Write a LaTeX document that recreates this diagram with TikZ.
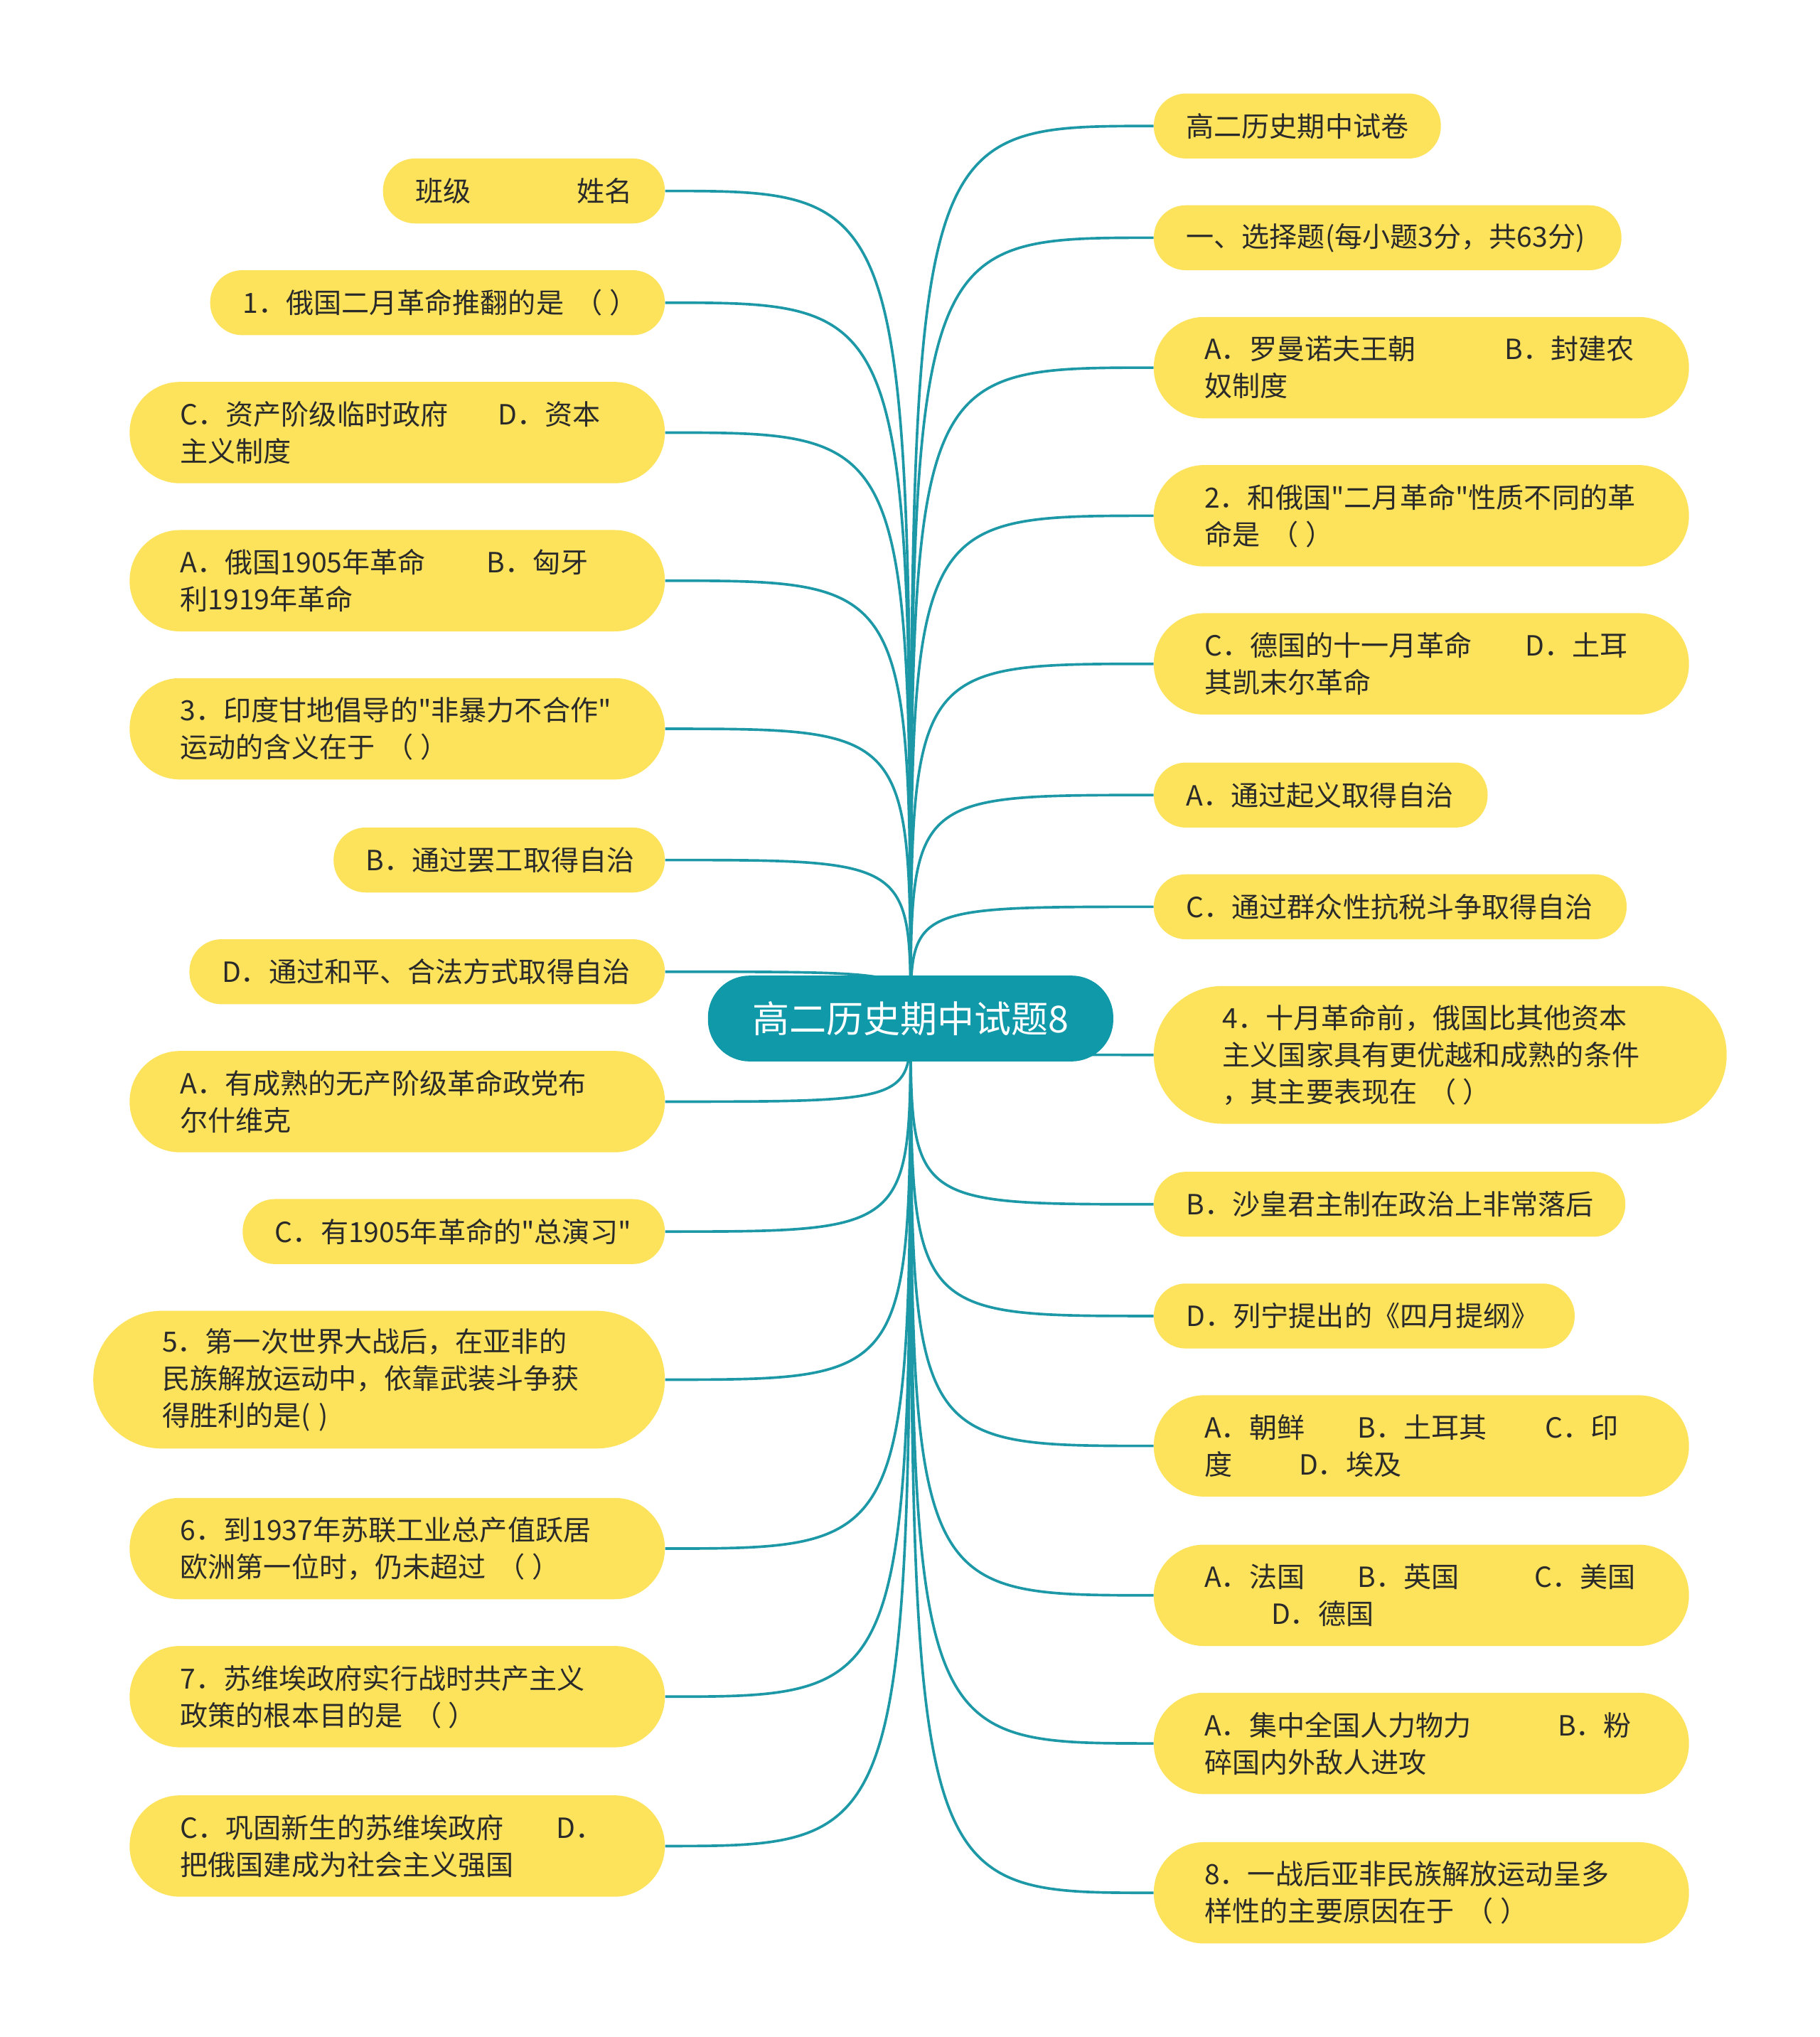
\documentclass[tikz,border=0pt]{standalone}
\usepackage{fontspec}
\setmainfont{Noto Sans CJK SC}[Ligatures=TeXOff]
\definecolor{yel}{HTML}{FDE35C}
\definecolor{teal1}{HTML}{0F99A9}
\definecolor{linec}{HTML}{1C98A6}
\definecolor{txt}{HTML}{2A2A2A}
\pgfdeclarelayer{bg}
\pgfsetlayers{bg,main}
\tikzset{
  leaf/.style={fill=yel, text=txt, align=left, inner ysep=0pt,
    font=\fontsize{21.4pt}{28.5pt}\selectfont},
  rootbox/.style={fill=teal1, text=white, rounded corners=32pt,
    minimum width=312pt, minimum height=66pt, inner sep=0pt,
    font=\fontsize{28.5pt}{34pt}\selectfont},
  link/.style={draw=linec, line width=2pt}
}
\newcommand\kh{\hspace*{0.4em}（\hspace*{0.25em}）}
\newcommand\leaf[6]{%
  \pgfmathsetmacro\lfw{#4-#5}%
  \pgfmathsetmacro\lfr{#5/2}%
  \pgfmathsetmacro\lfc{#5/2-0.3}%
  \node[leaf, anchor=#2, minimum height=#5pt, text width=\lfw pt,
        inner xsep=\lfr pt, rounded corners=\lfc pt] (#1) at #3 {#6};}
\begin{document}
\begin{tikzpicture}[x=1pt,y=-1pt]
\useasboundingbox (0,0) rectangle (1401,1568);
\node[rootbox] (root) at (701,784) {高二历史期中试题8};
% left
\leaf{L1}{east}{(512,147)}{217}{50}{班级\hfill 姓名}
\leaf{L2}{east}{(512,233)}{350}{50}{\mbox{1．俄国二月革命推翻的是\kh}}
\leaf{L3}{east}{(512,333)}{412}{78}{C．资产阶级临时政府\hspace*{1.8em}D．资本\\主义制度}
\leaf{L4}{east}{(512,447)}{412}{78}{A．俄国1905年革命\hspace*{2.2em}B．匈牙\\利1919年革命}
\leaf{L5}{east}{(512,561)}{412}{78}{3．印度甘地倡导的"非暴力不合作"\\运动的含义在于\kh}
\leaf{L6}{east}{(512,662)}{255}{50}{B．通过罢工取得自治}
\leaf{L7}{east}{(512,748)}{366}{50}{D．通过和平、合法方式取得自治}
\leaf{L8}{east}{(512,848)}{412}{78}{A．有成熟的无产阶级革命政党布\\尔什维克}
\leaf{L9}{east}{(512,948)}{325}{50}{C．有1905年革命的"总演习"}
\leaf{L10}{east}{(512,1062)}{440}{106}{5．第一次世界大战后，在亚非的\\民族解放运动中，依靠武装斗争获\\得胜利的是(\hspace*{0.3em})}
\leaf{L11}{east}{(512,1192)}{412}{78}{6．到1937年苏联工业总产值跃居\\欧洲第一位时，仍未超过\kh}
\leaf{L12}{east}{(512,1306)}{412}{78}{7．苏维埃政府实行战时共产主义\\政策的根本目的是\kh}
\leaf{L13}{east}{(512,1421)}{412}{78}{C．巩固新生的苏维埃政府\hspace*{1.9em}D．\\把俄国建成为社会主义强国}
% right
\leaf{R1}{west}{(888,97)}{221}{50}{高二历史期中试卷}
\leaf{R2}{west}{(888,183)}{360}{50}{一、选择题(每小题3分，共63分)}
\leaf{R3}{west}{(888,283)}{412}{78}{A．罗曼诺夫王朝\hspace*{3.2em}B．封建农\\奴制度}
\leaf{R4}{west}{(888,397)}{412}{78}{2．和俄国"二月革命"性质不同的革\\命是\kh}
\leaf{R5}{west}{(888,511)}{412}{78}{C．德国的十一月革命\hspace*{1.9em}D．土耳\\其凯末尔革命}
\leaf{R6}{west}{(888,612)}{257}{50}{A．通过起义取得自治}
\leaf{R7}{west}{(888,698)}{364}{50}{C．通过群众性抗税斗争取得自治}
\leaf{R8}{west}{(888,812)}{441}{106}{4．十月革命前，俄国比其他资本\\主义国家具有更优越和成熟的条件\\，其主要表现在\kh}
\leaf{R9}{west}{(888,927)}{363}{50}{B．沙皇君主制在政治上非常落后}
\leaf{R10}{west}{(888,1013)}{324}{50}{D．列宁提出的《四月提纲》}
\leaf{R11}{west}{(888,1113)}{412}{78}{A．朝鲜\hspace*{1.9em}B．土耳其\hspace*{2.1em}C．印\\度\hspace*{2.4em}D．埃及}
\leaf{R12}{west}{(888,1228)}{412}{78}{A．法国\hspace*{1.9em}B．英国\hspace*{2.7em}C．美国\\\hspace*{2.4em}D．德国}
\leaf{R13}{west}{(888,1342)}{412}{78}{A．集中全国人力物力\hspace*{3.1em}B．粉\\碎国内外敌人进攻}
\leaf{R14}{west}{(888,1457)}{412}{78}{8．一战后亚非民族解放运动呈多\\样性的主要原因在于\kh}
\begin{pgfonlayer}{bg}
\foreach \n in {L1,L2,L3,L4,L5,L6,L7,L8,L9,L10,L11,L12,L13}{
  \draw[link] (root.center) .. controls (root.center |- \n.east) .. (\n.east);
}
\foreach \n in {R1,R2,R3,R4,R5,R6,R7,R8,R9,R10,R11,R12,R13,R14}{
  \draw[link] (root.center) .. controls (root.center |- \n.west) .. (\n.west);
}
\end{pgfonlayer}
\end{tikzpicture}
\end{document}
